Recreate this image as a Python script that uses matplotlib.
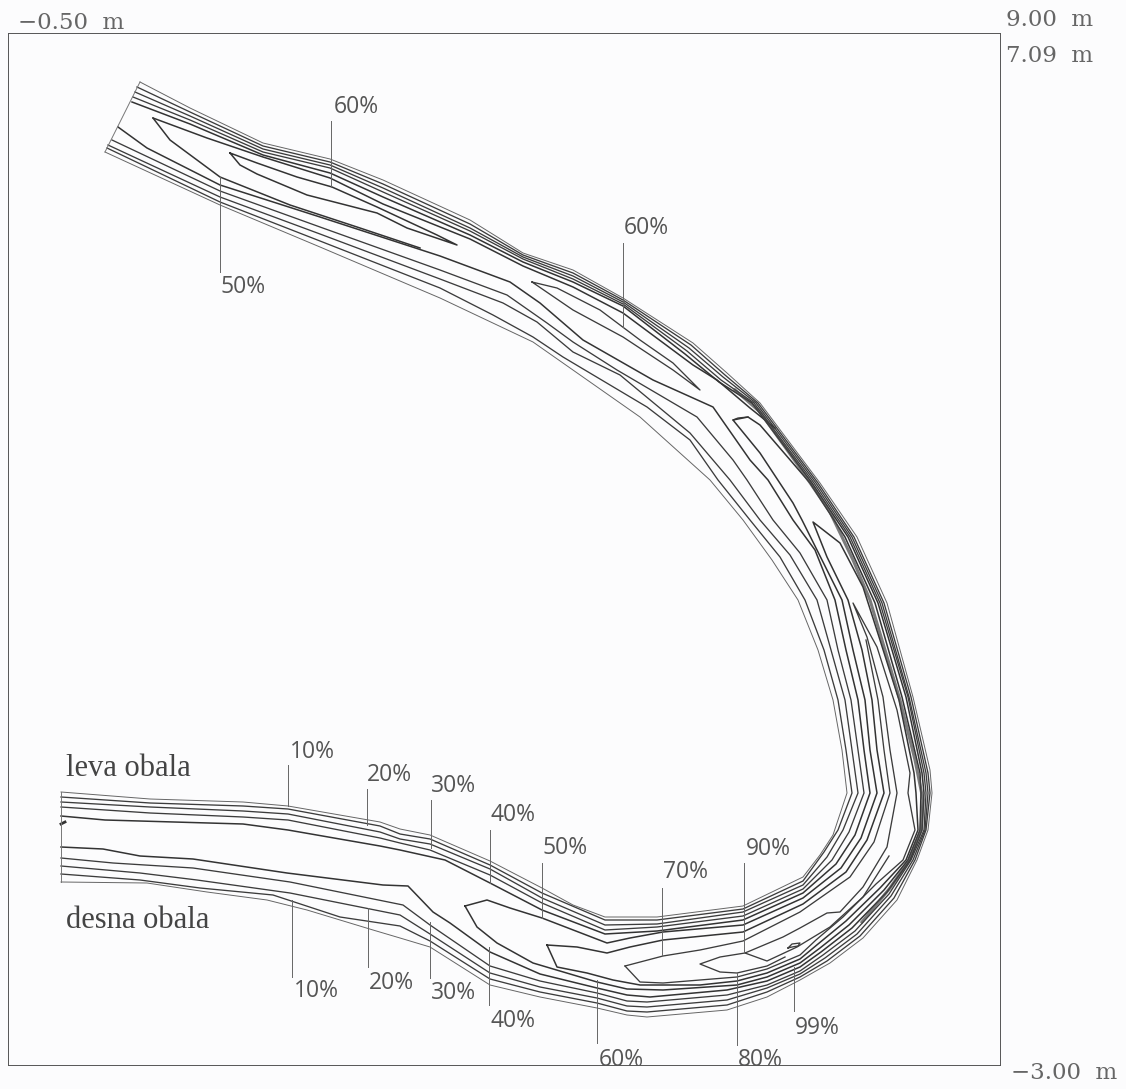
import matplotlib
matplotlib.use("Agg")
import matplotlib.pyplot as plt

frame_left, frame_right, frame_top, frame_bottom = 8, 1000, 33, 1065
x_min, x_max = -0.50, 9.00
y_min, y_max = -3.00, 7.09

inner_0 = [(61,792),(150,799),(243,802),(288,806),(380,822),(400,829),(430,835),(490,861),(542,888),(573,905),(605,917),(657,917),(743,906),(803,877),(820,855),(833,835),(847,793),(842,750),(833,700),(818,650),(798,600),(772,560),(743,520),(710,480),(640,417),(533,342),(440,298),(320,247),(220,205),(105,152)]
inner_1 = [(61,797),(150,803),(243,806),(288,809),(380,826),(400,834),(430,839),(490,865),(542,893),(605,920),(657,920),(743,909),(803,881),(824,852),(838,830),(852,793),(846,750),(838,700),(824,650),(805,600),(780,557),(750,520),(718,480),(690,440),(647,407),(563,357),(533,337),(493,315),(440,288),(320,241),(220,202),(107,148)]
inner_2 = [(61,802),(150,807),(243,811),(288,814),(380,832),(400,839),(430,844),(490,869),(542,898),(605,925),(657,924),(743,912),(803,885),(827,857),(843,830),(858,793),(852,750),(845,700),(831,650),(817,600),(790,555),(760,520),(730,480),(690,433),(620,375),(573,352),(537,322),(503,303),(440,279),(320,234),(220,197),(108,145)]
inner_3 = [(61,807),(150,813),(243,817),(288,820),(380,838),(400,843),(430,850),(490,875),(542,903),(605,930),(657,927),(743,916),(803,889),(832,860),(849,832),(864,793),(858,750),(851,700),(838,650),(827,600),(800,553),(773,520),(747,480),(733,460),(697,417),(617,370),(573,342),(547,323),(507,295),(440,270),(320,227),(220,191),(112,140)]
inner_4 = [(61,816),(105,820),(243,824),(288,830),(380,846),(400,850),(445,860),(490,883),(542,910),(605,934),(657,931),(743,920),(803,893),(836,864),(855,835),(870,793),(864,750),(858,700),(846,650),(835,600),(815,550),(793,520),(768,480),(750,460),(713,407),(653,380),(583,340),(540,303),(510,282),(440,256),(320,217),(220,185),(147,148),(118,127)]

outer_0 = [(61,882),(147,883),(207,892),(267,900),(307,910),(373,930),(400,938),(430,947),(490,985),(540,997),(597,1008),(627,1015),(647,1017),(727,1010),(767,997),(800,980),(830,963),(863,938),(897,900),(917,860),(928,830),(932,793),(930,770),(913,697),(887,603),(857,537),(820,483),(760,403),(727,373),(693,343),(623,298),(573,270),(523,253),(470,220),(383,180),(330,159),(263,143),(190,108),(140,82)]
outer_1 = [(61,874),(140,880),(200,888),(273,895),(340,917),(400,926),(430,941),(490,979),(540,992),(597,1003),(627,1011),(647,1012),(727,1005),(767,992),(800,977),(827,961),(860,936),(894,898),(915,860),(926,830),(930,793),(928,773),(911,697),(884,603),(854,537),(818,483),(758,403),(725,375),(691,345),(623,300),(573,273),(523,255),(470,224),(383,184),(330,162),(263,146),(190,112),(137,87)]
outer_2 = [(61,866),(140,873),(197,880),(290,893),(400,915),(430,934),(490,973),(540,987),(597,998),(627,1006),(647,1007),(727,1000),(767,988),(800,974),(825,958),(857,934),(891,896),(913,860),(925,830),(928,793),(926,773),(909,697),(882,603),(852,537),(816,483),(756,403),(723,377),(689,348),(623,302),(573,276),(523,257),(470,228),(383,188),(330,165),(263,149),(190,116),(135,92)]
outer_3 = [(61,858),(113,863),(193,868),(290,882),(403,905),(430,925),(490,966),(540,981),(597,993),(627,1001),(647,1002),(727,995),(767,985),(800,971),(823,955),(855,931),(889,894),(911,860),(924,830),(926,793),(924,773),(908,697),(880,603),(850,537),(814,483),(754,403),(721,380),(687,351),(623,304),(573,279),(523,259),(470,231),(383,192),(330,168),(263,152),(190,120),(133,97)]
outer_4 = [(61,847),(103,849),(140,856),(193,859),(287,873),(383,885),(408,886),(433,912),(450,923),(490,952),(540,974),(597,988),(627,995),(650,997),(727,990),(767,981),(800,967),(821,952),(852,928),(887,892),(910,860),(922,830),(924,793),(922,773),(906,697),(878,603),(848,537),(812,483),(752,403),(719,382),(685,354),(623,306),(573,282),(523,262),(470,235),(383,197),(330,173),(263,155),(190,124),(132,102)]

# tongues opening from the lower reach
tongue_1 = [(465,906),(477,927),(497,943),(533,963),(597,982),(627,989),(663,990),(737,985),(767,977),(800,963),(820,948),(849,925),(884,890),(908,860),(920,830),(921,793),(920,773),(902,697),(875,603),(845,537),(810,483),(760,425),(748,417),(733,420),(760,453),(793,503),(802,520),(842,600),(853,650),(865,700),(870,750),(877,793),(861,838),(841,868),(803,898),(743,925),(663,932),(630,938),(607,943),(542,918),(510,908),(487,900),(465,906)]
tongue_2 = [(547,945),(557,967),(587,973),(613,980),(640,985),(700,985),(737,981),(767,973),(800,959),(818,944),(846,921),(880,888),(906,860),(918,830),(916,793),(914,773),(899,700),(880,640),(863,587),(840,543),(813,522),(827,557),(848,600),(862,650),(872,700),(877,750),(884,793),(867,840),(846,872),(803,904),(743,932),(663,940),(630,947),(607,953),(577,947),(547,945)]
tongue_3 = [(625,966),(640,982),(663,983),(700,980),(737,977),(767,969),(800,955),(816,940),(843,917),(876,884),(903,860),(915,830),(908,793),(910,773),(897,710),(877,647),(853,603),(867,637),(883,697),(890,750),(897,793),(887,847),(863,887),(840,912),(827,913),(800,928),(783,937),(745,953)]
tongue_3_top = [(625,966),(663,956),(700,950),(743,941),(800,912),(850,877),(874,842),(890,793),(884,750),(878,700),(866,640)]
tongue_4 = [(785,957),(767,966),(737,973),(720,972),(700,964),(720,957),(745,953),(767,961),(797,947),(830,927),(863,897),(889,856)]
tip_99 = [(788,948),(792,944),(800,943),(798,946),(792,947),(788,948)]

# upper reach
upper_tongue_top = [(153,118),(207,138),(263,157),(330,178),(383,204),(470,239),(523,266),(573,287),(623,313),(693,365),(717,380),(750,408),(775,428)]
upper_tongue_low = [(153,118),(170,140),(220,177),(290,205),(360,228),(420,248)]
lens_upper = [(230,153),(257,163),(297,177),(332,187),(377,207),(437,235),(457,245),(407,228),(377,213),(307,195),(257,174),(240,165),(230,153)]
lens_lower = [(532,282),(557,288),(600,310),(640,340),(673,363),(700,390),(673,370),(623,337),(573,310),(532,282)]
upper_hook = [(733,420),(738,418),(748,417)]
mark = [(61,824),(65,822)]

# where the outer contours pile up and print nearly solid
dense_band = [(735,390),(760,412),(800,468),(830,512),(853,560),(870,600),(885,650),(900,700),(915,760),(923,800),(921,830),(908,862),(890,888),(862,922)]

thin_lines = [inner_0, outer_0]
normal_lines = [inner_1, inner_2, inner_3, outer_1, outer_2, outer_3, tongue_3, tongue_3_top, tongue_4, tip_99, lens_lower, upper_hook]
bold_lines = [inner_4, outer_4, tongue_1, tongue_2, upper_tongue_top, upper_tongue_low, lens_upper]

# leader lines: x, y start, y end, label, label x, label y
leaders = [
    (331, 121, 187, "60%", 356, 107),
    (220, 177, 272, "50%", 243, 287),
    (623, 243, 327, "60%", 646, 228),
    (288, 765, 806, "10%", 312, 752),
    (367, 789, 825, "20%", 389, 775),
    (431, 800, 848, "30%", 454, 786),
    (490, 830, 883, "40%", 513, 815),
    (542, 863, 918, "50%", 565, 848),
    (662, 888, 956, "70%", 685, 872),
    (744, 863, 953, "90%", 768, 849),
    (292, 900, 977, "10%", 316, 991),
    (368, 908, 967, "20%", 391, 983),
    (430, 922, 978, "30%", 454, 993),
    (489, 947, 1005, "40%", 513, 1021),
    (597, 980, 1043, "60%", 621, 1060),
    (737, 973, 1045, "80%", 760, 1060),
    (794, 967, 1011, "99%", 817, 1028),
]

corner_labels = [("\u22120.50  m", 18, 23), ("9.00  m", 1006, 20), ("7.09  m", 1006, 56), ("\u22123.00  m", 1011, 1073)]
bank_labels = [("leva obala", 66, 768), ("desna obala", 66, 920)]


def to_x(px):
    return x_min + (px - frame_left) / (frame_right - frame_left) * (x_max - x_min)


def to_y(py):
    return y_min + (frame_bottom - py) / (frame_bottom - frame_top) * (y_max - y_min)


def draw(ax, points, color, lw, alpha=1.0):
    xs = [to_x(p[0]) for p in points]
    ys = [to_y(p[1]) for p in points]
    ax.plot(xs, ys, color=color, lw=lw, alpha=alpha, solid_joinstyle="round", clip_on=False)


W, H = 1126, 1089
paper = "#fcfcfd"
fig = plt.figure(figsize=(W / 100, H / 100), dpi=100, facecolor=paper)
ax = fig.add_axes([frame_left / W, 1 - frame_bottom / H, (frame_right - frame_left) / W, (frame_bottom - frame_top) / H])
ax.set_facecolor(paper)
ax.set_xlim(x_min, x_max)
ax.set_ylim(y_min, y_max)
ax.set_xticks([])
ax.set_yticks([])
for s in ax.spines.values():
    s.set_linewidth(0.7)
    s.set_color("#555555")

for line in thin_lines:
    draw(ax, line, "#666666", 0.7)
for line in normal_lines:
    draw(ax, line, "#3c3c3c", 0.95)
for line in bold_lines:
    draw(ax, line, "#333333", 1.1)
draw(ax, dense_band, "#444444", 2.2, alpha=0.7)
draw(ax, mark, "#333333", 2.0)

# river ends
draw(ax, [inner_0[0], outer_0[0]], "#777777", 0.7)
draw(ax, [inner_0[-1], outer_0[-1]], "#777777", 0.7)

for x, y0, y1, label, lx, ly in leaders:
    draw(ax, [(x, y0), (x, y1)], "#666666", 0.7)
    ax.text(to_x(lx), to_y(ly), label, ha="center", va="center", fontsize=16.5, family="Open Sans", color="#555555")

for label, lx, ly in bank_labels:
    ax.text(to_x(lx), to_y(ly), label, ha="left", va="center", fontsize=22, family="Liberation Serif", color="#444444")

for label, lx, ly in corner_labels:
    ax.text(to_x(lx), to_y(ly), label, ha="left", va="center", fontsize=16.5, family="DejaVu Serif", color="#666666")

fig.savefig("out.png", dpi=100, facecolor=paper)
